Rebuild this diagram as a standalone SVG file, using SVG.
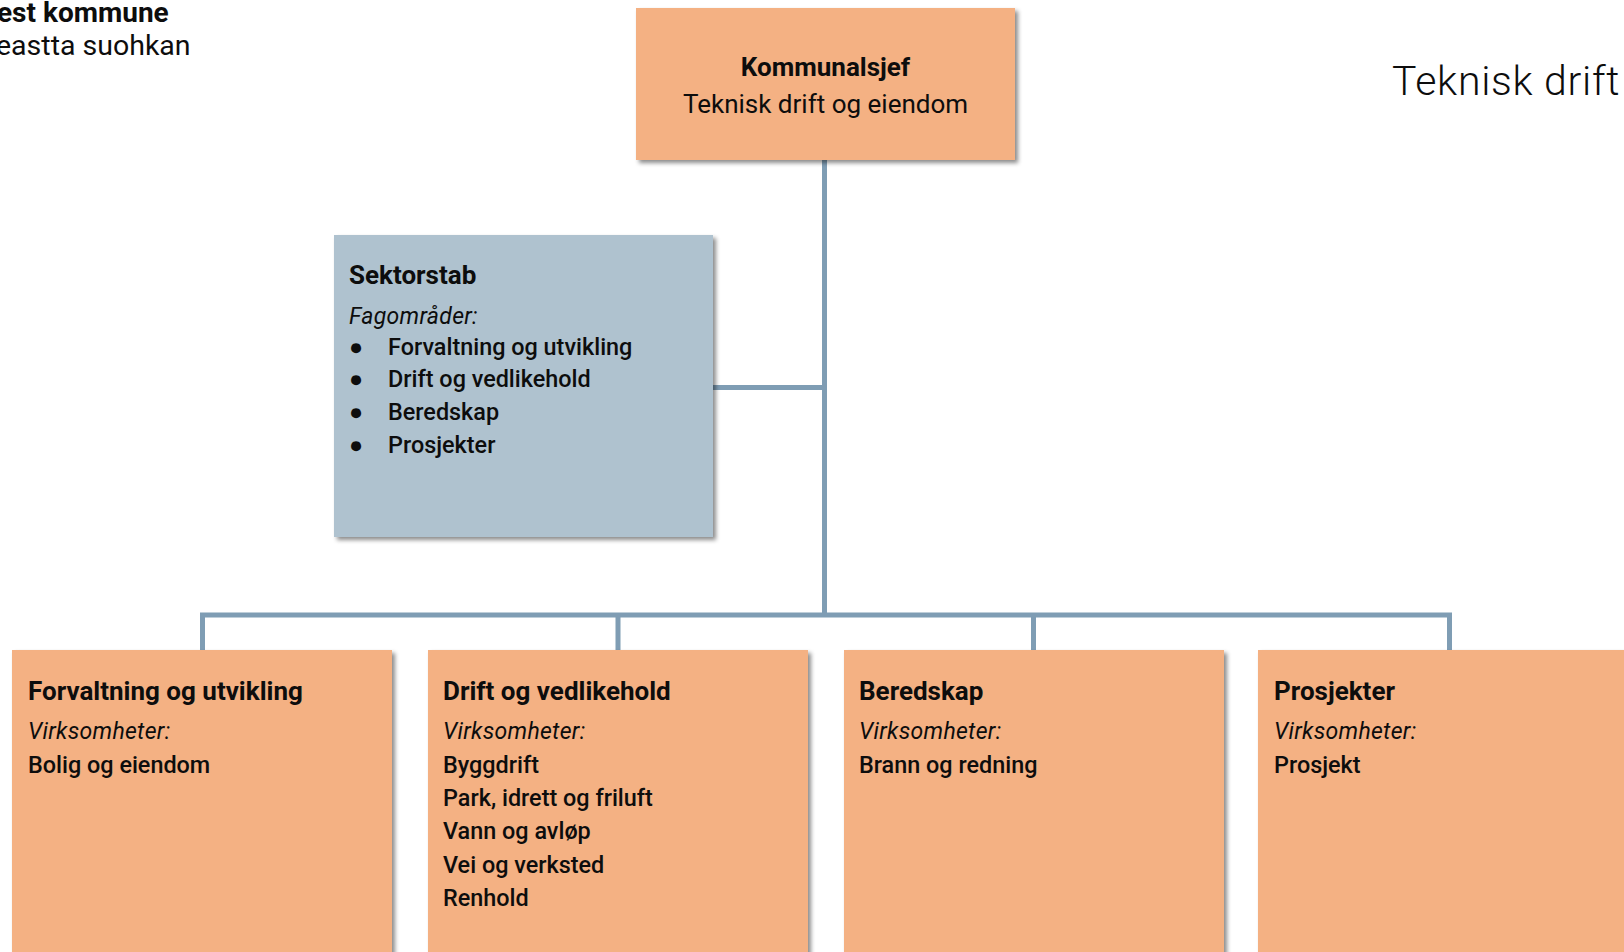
<svg xmlns="http://www.w3.org/2000/svg" width="1624" height="952" viewBox="0 0 1624 952">
<defs>
<filter id="sh" x="-5%" y="-5%" width="115%" height="115%">
<feDropShadow dx="3" dy="3" stdDeviation="2" flood-color="#000" flood-opacity="0.45"/>
</filter>
<style>
.t{font-family:Roboto,"Liberation Sans",sans-serif;fill:#0d0d0d}
.b{font-weight:bold}
.r{font-size:23.4px;font-weight:500}
.i{font-style:italic;font-weight:400;font-size:23px;letter-spacing:0.3px}
.h{font-weight:bold;font-size:26px}
.box{fill:#f4b183;filter:url(#sh)}
.stab{fill:#afc2cf;filter:url(#sh)}
.ln{stroke:#7f9db4;stroke-width:5;fill:none}
</style>
</defs>
<rect width="1624" height="952" fill="#fff"/>
<g id="header">
<text class="t b" x="-3" y="22" font-size="28">est kommune</text>
<text class="t" x="-4" y="55" font-size="28.5" font-weight="400">eastta suohkan</text>
<text class="t" x="1392" y="95" font-size="41" font-weight="300" letter-spacing="0.7">Teknisk drift</text>
</g>
<g id="connectors">
<path class="ln" d="M824.5 160 V615 M713 387.5 H824.5 M200 615 H1452 M202.5 615 V650 M618 615 V650 M1033.5 615 V650 M1449.5 615 V650"/>
</g>
<g id="kommunalsjef">
<rect class="box" x="636" y="8" width="379" height="152"/>
<text class="t b" x="825.5" y="76" font-size="26" text-anchor="middle">Kommunalsjef</text>
<text class="t" x="825.5" y="113" font-size="26" font-weight="400" text-anchor="middle">Teknisk drift og eiendom</text>
</g>
<g id="sektorstab">
<rect class="stab" x="334" y="235" width="379" height="302"/>
<text class="t h" x="349" y="284">Sektorstab</text>
<text class="t i" x="349" y="324">Fagområder:</text>
<text class="t r" x="349" y="355">●</text><text class="t r" x="388" y="355">Forvaltning og utvikling</text>
<text class="t r" x="349" y="387">●</text><text class="t r" x="388" y="387">Drift og vedlikehold</text>
<text class="t r" x="349" y="420">●</text><text class="t r" x="388" y="420">Beredskap</text>
<text class="t r" x="349" y="453">●</text><text class="t r" x="388" y="453">Prosjekter</text>
</g>
<g id="forvaltning">
<rect class="box" x="12" y="650" width="380" height="310"/>
<text class="t h" x="28" y="700">Forvaltning og utvikling</text>
<text class="t i" x="28" y="739">Virksomheter:</text>
<text class="t r" x="28" y="773">Bolig og eiendom</text>
</g>
<g id="drift">
<rect class="box" x="428" y="650" width="380" height="310"/>
<text class="t h" x="443" y="700">Drift og vedlikehold</text>
<text class="t i" x="443" y="739">Virksomheter:</text>
<text class="t r" x="443" y="773">Byggdrift</text>
<text class="t r" x="443" y="806">Park, idrett og friluft</text>
<text class="t r" x="443" y="839">Vann og avløp</text>
<text class="t r" x="443" y="873">Vei og verksted</text>
<text class="t r" x="443" y="906">Renhold</text>
</g>
<g id="beredskap">
<rect class="box" x="844" y="650" width="380" height="310"/>
<text class="t h" x="859" y="700">Beredskap</text>
<text class="t i" x="859" y="739">Virksomheter:</text>
<text class="t r" x="859" y="773">Brann og redning</text>
</g>
<g id="prosjekter">
<rect class="box" x="1258" y="650" width="380" height="310"/>
<text class="t h" x="1274" y="700">Prosjekter</text>
<text class="t i" x="1274" y="739">Virksomheter:</text>
<text class="t r" x="1274" y="773">Prosjekt</text>
</g>
</svg>
